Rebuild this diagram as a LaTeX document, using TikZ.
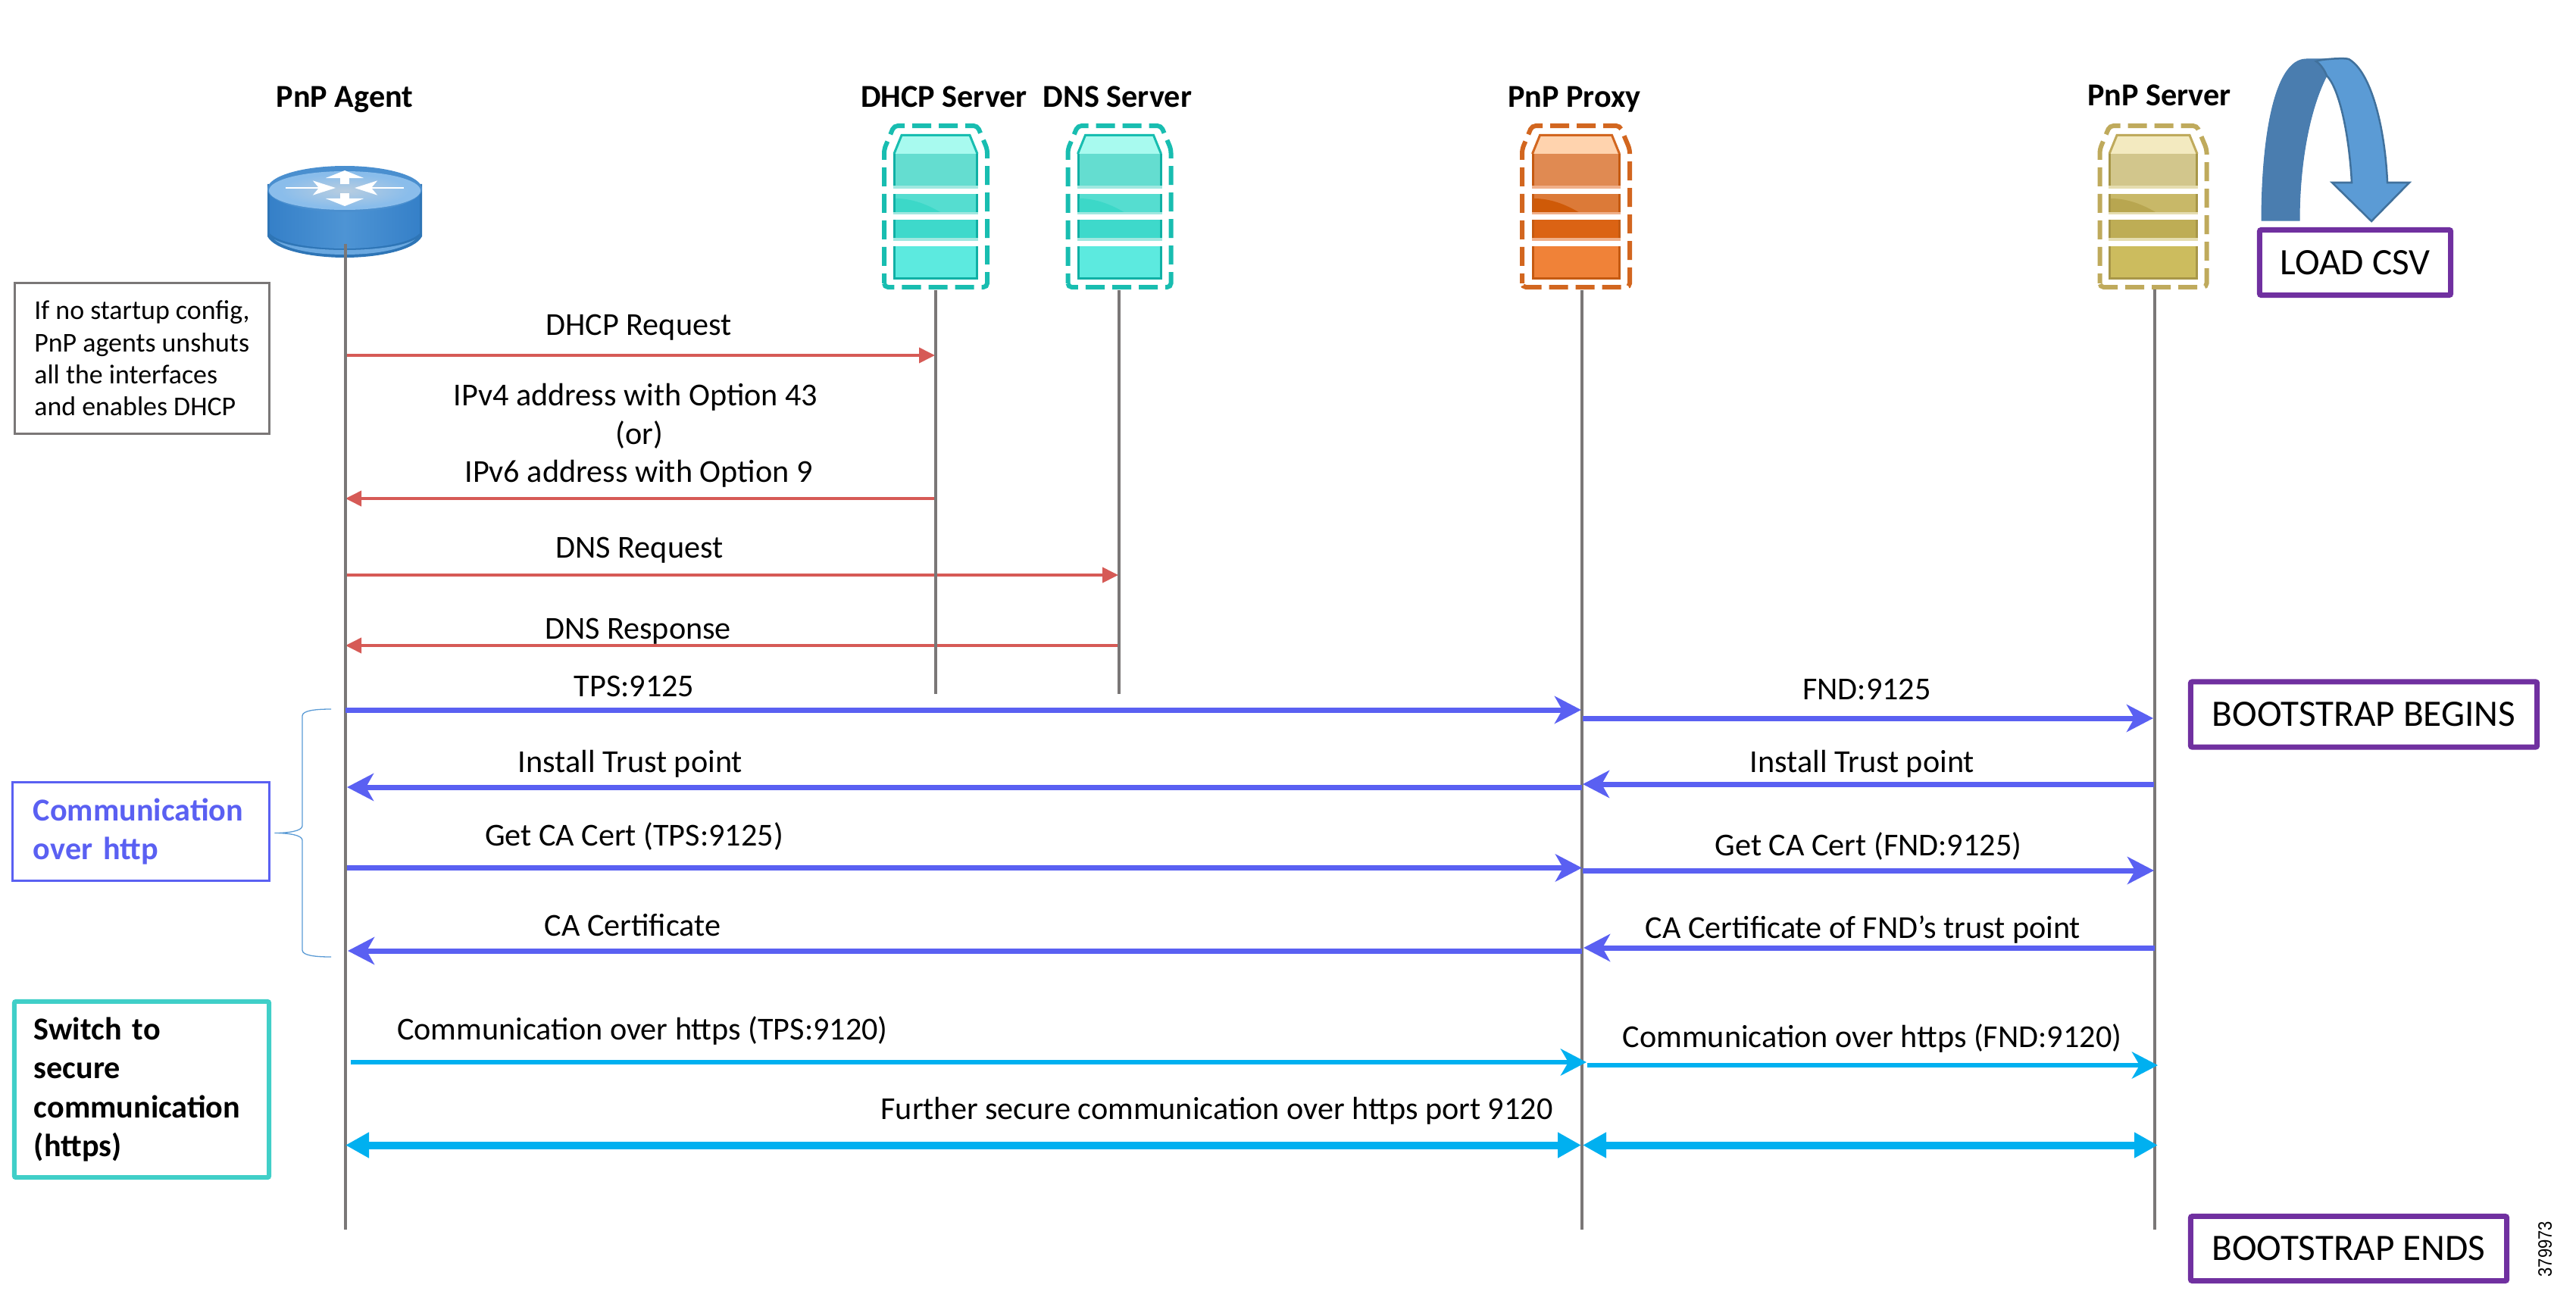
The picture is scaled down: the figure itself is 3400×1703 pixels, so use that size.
\documentclass[tikz,border=0pt]{standalone}
\usepackage{fontspec}
\setmainfont{Carlito}
\newfontfamily\tagfont[FakeStretch=0.87]{Liberation Sans}
\usetikzlibrary{arrows.meta}

\definecolor{lifegray}{HTML}{7A7777}
\definecolor{reqred}{HTML}{D65A56}
\definecolor{httpblue}{HTML}{5A60F2}
\definecolor{tlscyan}{HTML}{00B0F0}
\definecolor{boxteal}{HTML}{40CFC8}
\definecolor{boxpurple}{HTML}{7030A0}
\definecolor{braceblue}{HTML}{5B9BD5}
\definecolor{bentdark}{HTML}{4A7DAF}
\definecolor{bentlight}{HTML}{5B9BD5}
\definecolor{bentedge}{HTML}{41719C}

% router colours
\definecolor{routerside}{HTML}{3580C8}
\definecolor{routermid}{HTML}{4E94D4}
\definecolor{routerrim}{HTML}{2E75B6}
\definecolor{routerband}{HTML}{6AA8E0}
\definecolor{routerlid}{HTML}{4A8FCF}
\definecolor{routerface}{HTML}{8ABDEB}
\definecolor{routercore}{HTML}{B8CDE0}

% server colours: top, first, strip, second, wedge, third, fourth, border, dashes
\definecolor{tealtop}{HTML}{A8FAEF}
\definecolor{tealone}{HTML}{64DDD0}
\definecolor{tealstrip}{HTML}{A0E8E0}
\definecolor{tealtwo}{HTML}{55DDD0}
\definecolor{tealwedge}{HTML}{3CD8C8}
\definecolor{tealthree}{HTML}{3ED9CB}
\definecolor{tealfour}{HTML}{5CEADF}
\definecolor{tealedge}{HTML}{10B0A5}
\definecolor{tealdash}{HTML}{18BDB0}
\definecolor{orangetop}{HTML}{FFD3AE}
\definecolor{orangeone}{HTML}{E08A52}
\definecolor{orangestrip}{HTML}{F0B08A}
\definecolor{orangetwo}{HTML}{DC7A38}
\definecolor{orangewedge}{HTML}{CF5A08}
\definecolor{orangethree}{HTML}{DB6314}
\definecolor{orangefour}{HTML}{F08238}
\definecolor{orangeedge}{HTML}{C55A11}
\definecolor{orangedash}{HTML}{D2661F}
\definecolor{tantop}{HTML}{F3EAC0}
\definecolor{tanone}{HTML}{D2C68C}
\definecolor{tanstrip}{HTML}{E5DDB0}
\definecolor{tantwo}{HTML}{C8B868}
\definecolor{tanwedge}{HTML}{B8A650}
\definecolor{tanthree}{HTML}{BEAD55}
\definecolor{tanfour}{HTML}{CCBC5E}
\definecolor{tanedge}{HTML}{A89748}
\definecolor{tandash}{HTML}{BFAA5C}

\tikzset{
  lifeline/.style={draw=lifegray, line width=0.35mm},
  reqarrow/.style={draw=reqred, line width=0.38mm, -{Triangle[length=2.1mm, width=2mm, fill=reqred]}},
  httparrow/.style={draw=httpblue, line width=0.7mm, -{Stealth[length=3.5mm, width=3.6mm, inset=1mm, fill=httpblue]}},
  tlsarrow/.style={draw=tlscyan, line width=0.6mm, -{Stealth[length=3.4mm, width=3.5mm, inset=1mm, fill=tlscyan]}},
  bothways/.style={draw=tlscyan, line width=1mm, {Triangle[length=3.1mm, width=3.2mm, fill=tlscyan]}-{Triangle[length=3.1mm, width=3.2mm, fill=tlscyan]}},
  title/.style={font=\fontsize{12pt}{14pt}\selectfont\bfseries, text height=9pt, text depth=3pt, inner sep=0pt, yshift=-0.25mm},
  msg/.style={font=\fontsize{12pt}{14pt}\selectfont, text height=9pt, text depth=3pt, inner sep=0pt, yshift=-0.25mm},
  notebox/.style={draw, align=left, inner ysep=0pt},
  eventbox/.style={draw=boxpurple, line width=0.7mm, rounded corners=0.2mm, font=\fontsize{14pt}{17pt}\selectfont, inner sep=0pt},
  flatarrow/.style={white, line width=0.25mm, -{Stealth[length=3mm, width=1.9mm, inset=0.8mm]}},
  tallarrow/.style={white, line width=1.2mm, -{Triangle[length=1mm, width=5mm]}},
}

% one storey of a server: half width, top, bottom, fill, side edge
\newcommand{\serverslab}[5]{
\fill [#5] (-#1, #2) rectangle (#1, #3);
\fill [#4] (-#1+3, #2) rectangle (#1-3, #3);
}

% one server: x of centre, half width of the dashes, half width of the body, colour prefix
\newcommand{\servericon}[4]{
\begin{scope}[shift={(#1, 0)}]
\draw [#4dash, line width=0.6mm, dash pattern=on 2.5mm off 1mm, dash phase=1.2mm, rounded corners=0.5mm] (-#2, 379) -- (-#2, 197) -- (-#2+13, 166) -- (#2-13, 166) -- (#2, 197) -- (#2, 379) -- cycle;
\fill [#4top] (-#3+11, 178) -- (#3-11, 178) -- (#3, 203) -- (-#3, 203) -- cycle;
\draw [#4dash, line width=0.3mm] (-#3+1, 203) -- (-#3+11, 178.5) -- (#3-11, 178.5) -- (#3-1, 203);
\serverslab{#3}{203}{245}{#4one}{#4edge}
\fill [#4strip] (-#3, 245) rectangle (#3, 249);
\serverslab{#3}{256}{280}{#4two}{#4edge}
\fill [#4wedge] (-#3+3, 262) .. controls (-#3+25, 262) and (-#3+45, 270) .. (-#3+62, 280) -- (-#3+3, 280) -- cycle;
\fill [#4strip] (-#3, 280) rectangle (#3, 283);
\serverslab{#3}{290}{314}{#4three}{#4edge}
\fill [#4strip] (-#3, 314) rectangle (#3, 318);
\serverslab{#3}{325}{366}{#4four}{#4edge}
\fill [#4edge] (-#3, 366) rectangle (#3, 369);
\end{scope}
}

\begin{document}
\begin{tikzpicture}[x=0.01cm, y=-0.01cm]
\useasboundingbox (0, 0) rectangle (3400, 1703);

% column heads
\node [title] (agent) at (455, 128) {PnP Agent};
\node [title] (dhcp) at (1246, 128) {DHCP Server};
\node [title] (dns) at (1475, 128) {DNS Server};
\node [title] (proxy) at (2078, 128) {PnP Proxy};
\node [title] (server) at (2850, 126) {PnP Server};

% router
\fill [routerrim] (353, 243) -- (353, 312) .. controls (362, 330) and (410, 340) .. (455, 340) .. controls (500, 340) and (548, 330) .. (557, 312) -- (557, 243) -- cycle;
\shade [left color=routerside, right color=routerside, middle color=routermid] (356, 243) -- (356, 308) .. controls (370, 322) and (415, 328) .. (455, 328) .. controls (495, 328) and (540, 322) .. (554, 308) -- (554, 243) -- cycle;
\fill [routerband] (362, 316) .. controls (380, 326) and (420, 330) .. (455, 330) .. controls (490, 330) and (530, 326) .. (548, 316) .. controls (530, 331) and (490, 336) .. (455, 336) .. controls (420, 336) and (380, 331) .. (362, 316) -- cycle;
\fill [routerlid] (455, 249.5) ellipse [x radius=102, y radius=30.5];
\fill [routerface] (455, 251.5) ellipse [x radius=100, y radius=25.5];
\shade [inner color=routercore, outer color=routerface] (455, 251.5) ellipse [x radius=85, y radius=22];
\coordinate (wheelLeft) at (377, 248);  \coordinate (wheelMidL) at (443, 248);
\coordinate (wheelRight) at (533, 248); \coordinate (wheelMidR) at (468, 248);
\coordinate (wheelUpA) at (455, 243);   \coordinate (wheelUpB) at (455, 225);
\coordinate (wheelDnA) at (455, 255);   \coordinate (wheelDnB) at (455, 272);
\draw [flatarrow] (wheelLeft) -- (wheelMidL);
\draw [flatarrow] (wheelRight) -- (wheelMidR);
\draw [tallarrow] (wheelUpA) -- (wheelUpB);
\draw [tallarrow] (wheelDnA) -- (wheelDnB);

% servers
\servericon{1235}{68}{56}{teal}
\servericon{1477.5}{68}{56}{teal}
\servericon{2080}{71}{58.5}{orange}
\servericon{2842}{70.5}{59}{tan}

% bent arrow above the csv box
\draw [fill=bentdark, draw=bentdark, line width=0.1mm] (2985, 291) .. controls (2985, 190) and (3000, 78) .. (3044, 78) -- (3100, 78) -- (3071, 100) .. controls (3050, 140) and (3035, 210) .. (3035, 291) -- cycle;
\draw [fill=bentlight, draw=bentedge, line width=0.25mm] (3057, 81) .. controls (3062, 78) and (3095, 76) .. (3100, 78) .. controls (3130, 95) and (3148, 170) .. (3151, 241) -- (3180, 241) -- (3130, 292) -- (3078, 241) -- (3104, 241) .. controls (3100, 170) and (3086, 115) .. (3071, 100) .. controls (3068, 92) and (3062, 84) .. (3057, 81) -- cycle;

% free ends of the messages, one row per message
\coordinate (A1) at (456, 469);   \coordinate (H1) at (1234, 469);
\coordinate (A2) at (456, 658);   \coordinate (H2) at (1234, 658);
\coordinate (A3) at (456, 759);   \coordinate (N3) at (1476, 759);
\coordinate (A4) at (456, 852);   \coordinate (N4) at (1476, 852);

\draw [reqarrow] (A1) -- (H1);
\draw [reqarrow] (H2) -- (A2);
\draw [reqarrow] (A3) -- (N3);
\draw [reqarrow] (N4) -- (A4);

% lifelines
\coordinate (agentTop) at (456, 322);   \coordinate (agentEnd) at (456, 1623);
\coordinate (dhcpTop) at (1235, 383);   \coordinate (dhcpEnd) at (1235, 916);
\coordinate (dnsTop) at (1477, 383);    \coordinate (dnsEnd) at (1477, 916);
\coordinate (proxyTop) at (2088, 383);  \coordinate (proxyEnd) at (2088, 1623);
\coordinate (serverTop) at (2844, 382); \coordinate (serverEnd) at (2844, 1623);
\draw [lifeline] (agentTop) -- (agentEnd);
\draw [lifeline] (dhcpTop) -- (dhcpEnd);
\draw [lifeline] (dnsTop) -- (dnsEnd);
\draw [lifeline] (proxyTop) -- (proxyEnd);
\draw [lifeline] (serverTop) -- (serverEnd);

\coordinate (A5) at (456, 937);   \coordinate (P5) at (2087, 937);
\coordinate (P5b) at (2089, 948); \coordinate (S5) at (2842, 948);
\coordinate (A6) at (458, 1039);  \coordinate (P6) at (2088, 1039);
\coordinate (P6b) at (2089, 1035); \coordinate (S6) at (2843, 1035);
\coordinate (A7) at (458, 1145.5); \coordinate (P7) at (2088, 1145.5);
\coordinate (P7b) at (2089, 1149); \coordinate (S7) at (2843, 1149);
\coordinate (A8) at (459, 1255);  \coordinate (P8) at (2088, 1255);
\coordinate (P8b) at (2090, 1251); \coordinate (S8) at (2844, 1251);
\coordinate (A9) at (463, 1402);  \coordinate (P9) at (2094, 1402);
\coordinate (P9b) at (2095, 1406); \coordinate (S9) at (2848, 1406);
\coordinate (A10) at (456, 1511.5); \coordinate (P10) at (2087, 1511.5);
\coordinate (P10b) at (2089, 1511.5); \coordinate (S10) at (2848, 1511.5);

\draw [httparrow] (A5) -- (P5);
\draw [httparrow] (P5b) -- (S5);
\draw [httparrow] (P6) -- (A6);
\draw [httparrow] (S6) -- (P6b);
\draw [httparrow] (A7) -- (P7);
\draw [httparrow] (P7b) -- (S7);
\draw [httparrow] (P8) -- (A8);
\draw [httparrow] (S8) -- (P8b);
\draw [tlsarrow] (A9) -- (P9);
\draw [tlsarrow] (P9b) -- (S9);
\draw [bothways] (A10) -- (P10);
\draw [bothways] (P10b) -- (S10);

% message labels
\node [msg] (dhcpreq) at (843, 429) {DHCP Request};
\node [msg] (ipfour) at (839, 522) {IPv4 address with Option 43};
\node [msg] (ipor) at (844, 573) {(or)};
\node [msg] (ipsix) at (843, 623) {IPv6 address with Option 9};
\node [msg] (dnsreq) at (844, 723) {DNS Request};
\node [msg] (dnsresp) at (842, 830) {DNS Response};
\node [msg] (tps) at (837, 906) {TPS:9125};
\node [msg] (fnd) at (2464, 910) {FND:9125};
\node [msg] (trustleft) at (832, 1006) {Install Trust point};
\node [msg] (trustright) at (2458, 1006) {Install Trust point};
\node [msg] (certleft) at (837, 1103) {Get CA Cert (TPS:9125)};
\node [msg] (certright) at (2466, 1116) {Get CA Cert (FND:9125)};
\node [msg] (caleft) at (835, 1222) {CA Certificate};
\node [msg] (caright) at (2459, 1225) {CA Certificate of FND’s trust point};
\node [msg] (httpsleft) at (848, 1359) {Communication over https (TPS:9120)};
\node [msg] (httpsright) at (2471, 1369) {Communication over https (FND:9120)};
\node [msg] (further) at (1606, 1464) {Further secure communication over https port 9120};

% notes on the left
\node [notebox, draw=lifegray, line width=0.3mm, minimum width=3.35cm, minimum height=1.98cm, font=\fontsize{10.2pt}{12pt}\selectfont] (startnote) at (187.5, 473) {If no startup config,\\PnP agents unshuts\\all the interfaces\\and enables DHCP};
\node [notebox, draw=httpblue, text=httpblue, line width=0.3mm, minimum height=1.29cm, text width=2.84cm, inner xsep=2.7mm, font=\fontsize{12pt}{14.6pt}\selectfont\bfseries] (httpnote) at (186, 1097.5) {Communication\\over http};
\node [notebox, draw=boxteal, line width=0.6mm, rounded corners=0.2mm, minimum height=2.32cm, text width=2.84cm, inner xsep=2.6mm, font=\fontsize{12pt}{14.6pt}\selectfont\bfseries] (tlsnote) at (187, 1438) {Switch to\\secure\\communication\\(https)};

% brace from the note to the http messages
\coordinate (braceTop) at (437, 936);
\coordinate (braceTip) at (362.5, 1099.5);
\coordinate (braceEnd) at (437, 1263);
\draw [braceblue, line width=0.13mm] (braceTop) .. controls (415, 936) and (399, 938) .. (399, 945) -- (399, 1090) .. controls (399, 1097) and (380, 1099.5) .. (braceTip) .. controls (380, 1099.5) and (399, 1102) .. (399, 1109) -- (399, 1254) .. controls (399, 1261) and (415, 1263) .. (braceEnd);

% boxes on the right
\node [eventbox, minimum width=2.52cm, minimum height=0.86cm] (loadcsv) at (3108.5, 346.5) {LOAD CSV};
\node [eventbox, minimum width=4.57cm, minimum height=0.86cm] (begins) at (3120, 943) {BOOTSTRAP BEGINS};
\node [eventbox, minimum width=4.17cm, minimum height=0.85cm] (ends) at (3100, 1648) {BOOTSTRAP ENDS};

\node [rotate=90, inner sep=0pt, font=\tagfont\fontsize{7.2pt}{8pt}\selectfont] (figno) at (3359, 1648.5) {379973};
\end{tikzpicture}
\end{document}
